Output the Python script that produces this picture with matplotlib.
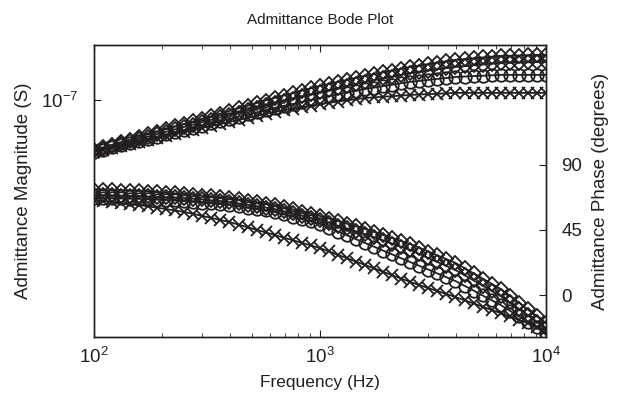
import numpy as np
import matplotlib
matplotlib.use("Agg")
import matplotlib.pyplot as plt
from matplotlib.ticker import FixedLocator, NullLocator, FixedFormatter

plt.rcParams['font.family'] = ['Liberation Sans', 'DejaVu Sans']
plt.rcParams['mathtext.fontset'] = 'custom'
plt.rcParams['mathtext.rm'] = 'Liberation Sans'
plt.rcParams['mathtext.it'] = 'Liberation Sans'

# frequency grid (Hz)
freq = [100, 109.6, 120.2, 131.8, 144.5, 158.5, 173.8, 190.6, 208.9, 229.1,
        251.2, 275.4, 302.0, 331.1, 363.1, 398.1, 436.5, 478.6, 524.8, 575.4,
        631.0, 691.8, 758.6, 831.8, 912.0, 1000, 1096, 1202, 1318, 1445,
        1585, 1738, 1906, 2089, 2291, 2512, 2754, 3020, 3311, 3631,
        3981, 4365, 4786, 5248, 5754, 6310, 6918, 7586, 8318, 9120, 10000]

# admittance magnitude, dB re 1 S
mag_d1 = [-143.33, -143.16, -142.99, -142.81, -142.64, -142.47, -142.29, -142.12, -141.95, -141.77,
          -141.60, -141.43, -141.25, -141.08, -140.91, -140.73, -140.56, -140.39, -140.21, -140.04,
          -139.87, -139.71, -139.55, -139.39, -139.23, -139.07, -138.94, -138.80, -138.67, -138.53,
          -138.40, -138.28, -138.16, -138.04, -137.92, -137.80, -137.71, -137.61, -137.52, -137.43,
          -137.33, -137.28, -137.23, -137.17, -137.12, -137.07, -137.06, -137.04, -137.03, -137.01,
          -137.00]
mag_d2 = [-143.40, -143.24, -143.08, -142.92, -142.76, -142.60, -142.44, -142.28, -142.12, -141.96,
          -141.80, -141.64, -141.48, -141.32, -141.16, -141.00, -140.84, -140.68, -140.52, -140.36,
          -140.20, -140.05, -139.91, -139.76, -139.62, -139.47, -139.34, -139.20, -139.07, -138.93,
          -138.80, -138.68, -138.56, -138.44, -138.32, -138.20, -138.12, -138.04, -137.96, -137.88,
          -137.80, -137.75, -137.69, -137.64, -137.58, -137.53, -137.52, -137.51, -137.49, -137.48,
          -137.47]
mag_o = [-143.47, -143.32, -143.17, -143.03, -142.88, -142.73, -142.58, -142.44, -142.29, -142.15,
         -142.00, -141.85, -141.71, -141.56, -141.41, -141.27, -141.12, -140.97, -140.83, -140.68,
         -140.53, -140.40, -140.27, -140.13, -140.00, -139.87, -139.75, -139.63, -139.51, -139.39,
         -139.27, -139.18, -139.08, -138.99, -138.89, -138.80, -138.73, -138.67, -138.60, -138.54,
         -138.47, -138.44, -138.41, -138.39, -138.36, -138.33, -138.33, -138.33, -138.33, -138.33,
         -138.33]
mag_x = [-143.47, -143.34, -143.20, -143.07, -142.93, -142.80, -142.67, -142.53, -142.40, -142.26,
         -142.13, -142.00, -141.86, -141.73, -141.60, -141.47, -141.33, -141.20, -141.07, -140.93,
         -140.80, -140.69, -140.59, -140.48, -140.38, -140.27, -140.19, -140.11, -140.03, -139.95,
         -139.87, -139.83, -139.79, -139.75, -139.71, -139.67, -139.64, -139.61, -139.59, -139.56,
         -139.53, -139.53, -139.53, -139.53, -139.53, -139.53, -139.53, -139.53, -139.53, -139.53,
         -139.53]

# admittance phase, degrees
ph_d1 = [72.7, 72.6, 72.4, 72.3, 72.1, 72.0, 71.6, 71.2, 70.7, 70.3,
         69.9, 69.4, 68.8, 68.3, 67.7, 67.2, 66.2, 65.2, 64.3, 63.3,
         62.3, 60.8, 59.3, 57.7, 56.2, 54.7, 52.9, 51.1, 49.3, 47.5,
         45.7, 43.6, 41.5, 39.5, 37.4, 35.3, 32.7, 30.1, 27.4, 24.8,
         22.2, 18.6, 15.0, 11.4, 7.8, 4.2, -0.5, -5.2, -10.0, -14.7,
         -19.4]
ph_d2 = [69.2, 69.1, 68.9, 68.8, 68.6, 68.5, 68.2, 68.0, 67.7, 67.5,
         67.2, 66.6, 66.1, 65.5, 65.0, 64.4, 63.4, 62.4, 61.5, 60.5,
         59.5, 58.0, 56.5, 54.9, 53.4, 51.9, 50.0, 48.0, 46.1, 44.1,
         42.2, 40.0, 37.8, 35.6, 33.4, 31.2, 28.4, 25.6, 22.9, 20.1,
         17.3, 13.7, 10.1, 6.5, 2.9, -0.7, -5.1, -9.5, -14.0, -18.4,
         -22.8]
ph_o = [67.2, 67.1, 66.9, 66.8, 66.6, 66.5, 66.2, 65.9, 65.7, 65.4,
        65.1, 64.5, 64.0, 63.4, 62.9, 62.3, 61.3, 60.4, 59.4, 58.5,
        57.5, 55.8, 54.2, 52.5, 50.9, 49.2, 46.6, 43.9, 41.3, 38.6,
        36.0, 33.4, 30.7, 28.1, 25.4, 22.8, 20.2, 17.6, 14.9, 12.3,
        9.7, 6.4, 3.1, -0.3, -3.6, -6.9, -10.8, -14.7, -18.5, -22.4,
        -26.3]
ph_x = [65.8, 65.1, 64.4, 63.7, 63.0, 62.3, 61.3, 60.4, 59.4, 58.5,
        57.5, 56.1, 54.7, 53.3, 51.9, 50.5, 48.7, 46.9, 45.1, 43.3,
        41.5, 39.7, 37.9, 36.1, 34.3, 32.5, 30.2, 27.8, 25.5, 23.1,
        20.8, 18.4, 16.1, 13.7, 11.4, 9.0, 6.9, 4.8, 2.8, 0.7,
        -1.4, -3.6, -5.8, -8.1, -10.3, -12.5, -14.8, -17.2, -19.5, -21.9,
        -24.2]

ink = '#231f20'
series = [(mag_d1, ph_d1, 'D', 7.5), (mag_d2, ph_d2, 'D', 7.5),
          (mag_o, ph_o, 'o', 9), (mag_x, ph_x, 'x', 8)]

fig = plt.figure(figsize=(6.26, 4.16), dpi=100)
ax = fig.add_axes([0.150, 0.190, 0.722, 0.702])
ax2 = ax.twinx()

for mag, ph, m, ms in series:
    y_s = 10 ** (np.array(mag) / 20.0)
    ax.plot(freq, y_s, color=ink, lw=1.3, marker=m, ms=ms, mfc='none',
            mec=ink, mew=1.3)
    ax2.plot(freq, ph, color=ink, lw=1.3, marker=m, ms=ms, mfc='none',
             mec=ink, mew=1.3)

ax.set_xscale('log')
ax.set_yscale('log')
ax.set_xlim(100, 10000)
ax.set_ylim(1.622e-8, 1.525e-7)
ax.yaxis.set_major_locator(FixedLocator([1e-7]))
ax.yaxis.set_major_formatter(FixedFormatter([r'$10^{-7}$']))
ax.yaxis.set_minor_locator(NullLocator())
ax.set_xticks([100, 1000, 10000])
ax.set_xticklabels([r'$10^{2}$', r'$10^{3}$', r'$10^{4}$'])

ax2.set_ylim(-29, 173)
ax2.set_yticks([0, 45, 90])

for a in (ax, ax2):
    for s in a.spines.values():
        s.set_color(ink)
        s.set_linewidth(1.0)
ax.tick_params(axis='x', which='both', direction='in', top=True, colors=ink,
               labelsize=13.5, pad=7)
ax.tick_params(axis='x', which='major', length=5)
ax.tick_params(axis='x', which='minor', length=3)
ax.tick_params(axis='y', direction='in', length=5, colors=ink, labelsize=13.5, pad=11)
ax2.tick_params(axis='y', direction='in', length=5, colors=ink, labelsize=13.5, pad=11)

ax.set_title('Admittance Bode Plot', fontsize=11, color=ink, pad=15)
ax.set_xlabel('Frequency (Hz)', fontsize=12.5, color=ink, labelpad=6)
ax.set_ylabel('Admittance Magnitude (S)', fontsize=13.5, color=ink, labelpad=7)
ax2.set_ylabel('Admittance Phase (degrees)', fontsize=13.5, color=ink, labelpad=7)

fig.savefig('out.png', dpi=100)
